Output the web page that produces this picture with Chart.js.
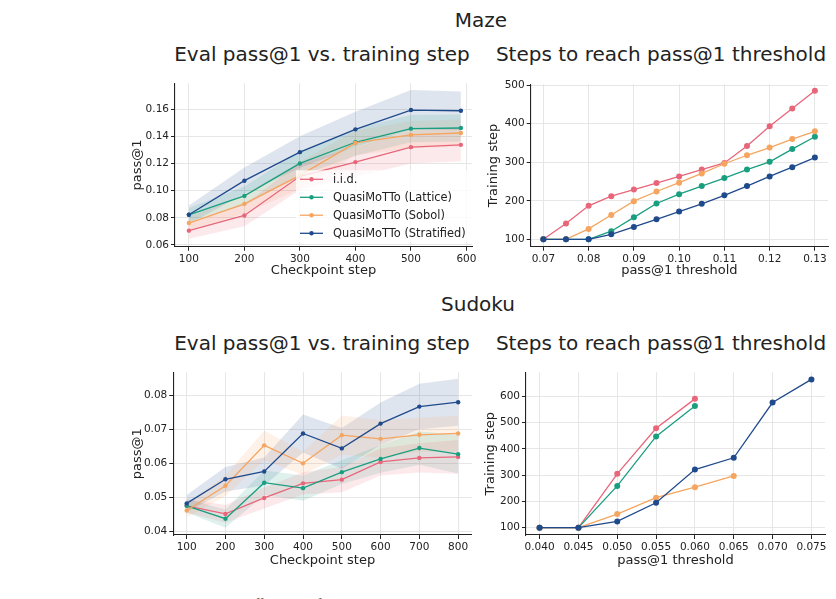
<!DOCTYPE html>
<html>
<head>
<meta charset="utf-8">
<script src="https://cdn.jsdelivr.net/npm/chart.js@4.4.1/dist/chart.umd.min.js"></script>
<style>
  html, body { margin:0; padding:0; background:#fff; }
  body { width:836px; height:599px; position:relative; overflow:hidden; font-family:"DejaVu Sans", sans-serif; color:#222; }
  .t { position:absolute; white-space:nowrap; transform:translate(-50%,-50%); }
  canvas { position:absolute; }
</style>
</head>
<body>
<div class="t" style="left:481px; top:20px; font-size:20px;">Maze</div>
<div class="t" style="left:322px; top:54px; font-size:20px;">Eval pass@1 vs. training step</div>
<div class="t" style="left:661px; top:54px; font-size:20px;">Steps to reach pass@1 threshold</div>
<div class="t" style="left:478px; top:304px; font-size:20px;">Sudoku</div>
<div class="t" style="left:322px; top:343px; font-size:20px;">Eval pass@1 vs. training step</div>
<div class="t" style="left:661px; top:343px; font-size:20px;">Steps to reach pass@1 threshold</div>
<div style="position:absolute; left:6px; top:596px; font-family:'Liberation Serif', serif; font-style:italic; font-size:15px; white-space:nowrap;">Figure 11: Learning curves and sample efficiency of QuasiMoTTo against i.i.d. sampling on Maze and Sudoku.</div>

<canvas id="c1" width="350" height="203" style="left:130px; top:75px;"></canvas>
<canvas id="c2" width="350" height="202" style="left:486px; top:76px;"></canvas>
<canvas id="c3" width="350" height="204" style="left:130px; top:364px;"></canvas>
<canvas id="c4" width="353" height="204" style="left:483px; top:364px;"></canvas>

<script>
// ---------------- DATA ----------------
const seriesNames = ["i.i.d.", "QuasiMoTTo (Lattice)", "QuasiMoTTo (Sobol)", "QuasiMoTTo (Stratified)"];

// Maze: eval pass@1 vs checkpoint step
const mazeSteps = [100, 200, 300, 400, 500, 590];
const mazeIid      = [0.0705, 0.0817, 0.1105, 0.1210, 0.1320, 0.1337];
const mazeIidLo    = [0.0645, 0.0737, 0.1005, 0.1100, 0.1200, 0.1217];
const mazeIidHi    = [0.0765, 0.0897, 0.1205, 0.1320, 0.1440, 0.1457];
const mazeLattice  = [0.0822, 0.0961, 0.1200, 0.1356, 0.1456, 0.1461];
const mazeLatticeLo= [0.0772, 0.0891, 0.1110, 0.1256, 0.1356, 0.1361];
const mazeLatticeHi= [0.0872, 0.1031, 0.1290, 0.1456, 0.1556, 0.1561];
const mazeSobol    = [0.0761, 0.0902, 0.1112, 0.1351, 0.1410, 0.1424];
const mazeSobolLo  = [0.0711, 0.0832, 0.1012, 0.1261, 0.1310, 0.1324];
const mazeSobolHi  = [0.0811, 0.0972, 0.1212, 0.1441, 0.1510, 0.1524];
const mazeStrat    = [0.0822, 0.1073, 0.1283, 0.1451, 0.1593, 0.1588];
const mazeStratLo  = [0.0754, 0.0976, 0.1166, 0.1322, 0.1446, 0.1446];
const mazeStratHi  = [0.0890, 0.1170, 0.1400, 0.1580, 0.1740, 0.1730];
const mazeEvalXTicks = [100, 200, 300, 400, 500, 600];
const mazeEvalYTicks = [0.06, 0.08, 0.10, 0.12, 0.14, 0.16];

// Maze: steps to reach threshold
const mazeThresholds = [0.07, 0.075, 0.08, 0.085, 0.09, 0.095, 0.10, 0.105, 0.11, 0.115, 0.12, 0.125, 0.13];
const mazeReachIid     = [100, 141, 187, 212, 229, 246, 263, 281, 298, 342, 393, 439, 485];
const mazeReachLattice = [100, 100, 100, 121, 157, 193, 217, 238, 259, 281, 301, 334, 366];
const mazeReachSobol   = [100, 100, 127, 163, 199, 224, 247, 271, 296, 318, 338, 360, 380];
const mazeReachStrat   = [100, 100, 100, 113, 132, 152, 172, 192, 214, 238, 263, 287, 312];
const mazeReachXTicks = [0.07, 0.08, 0.09, 0.10, 0.11, 0.12, 0.13];
const mazeReachYTicks = [100, 200, 300, 400, 500];

// Sudoku: eval pass@1 vs checkpoint step
const sudokuSteps = [100, 200, 300, 400, 500, 600, 700, 800];
const sudokuIid      = [0.0476, 0.0452, 0.0499, 0.0542, 0.0553, 0.0605, 0.0617, 0.0620];
const sudokuIidLo    = [0.0456, 0.0426, 0.0468, 0.0509, 0.0516, 0.0565, 0.0574, 0.0570];
const sudokuIidHi    = [0.0496, 0.0478, 0.0530, 0.0575, 0.0590, 0.0645, 0.0660, 0.0670];
const sudokuLattice  = [0.0476, 0.0438, 0.0544, 0.0528, 0.0575, 0.0614, 0.0646, 0.0628];
const sudokuLatticeLo= [0.0456, 0.0411, 0.0508, 0.0491, 0.0540, 0.0573, 0.0597, 0.0571];
const sudokuLatticeHi= [0.0496, 0.0465, 0.0580, 0.0565, 0.0610, 0.0655, 0.0695, 0.0685];
const sudokuSobol    = [0.0462, 0.0535, 0.0654, 0.0601, 0.0684, 0.0673, 0.0685, 0.0689];
const sudokuSobolLo  = [0.0442, 0.0505, 0.0610, 0.0567, 0.0626, 0.0618, 0.0635, 0.0636];
const sudokuSobolHi  = [0.0482, 0.0565, 0.0698, 0.0635, 0.0742, 0.0728, 0.0735, 0.0742];
const sudokuStrat    = [0.0483, 0.0554, 0.0577, 0.0689, 0.0645, 0.0718, 0.0768, 0.0781];
const sudokuStratLo  = [0.0458, 0.0518, 0.0536, 0.0633, 0.0585, 0.0656, 0.0701, 0.0712];
const sudokuStratHi  = [0.0508, 0.0590, 0.0618, 0.0745, 0.0705, 0.0780, 0.0835, 0.0850];
const sudokuEvalXTicks = [100, 200, 300, 400, 500, 600, 700, 800];
const sudokuEvalYTicks = [0.04, 0.05, 0.06, 0.07, 0.08];

// Sudoku: steps to reach threshold
const sudokuThresholds = [0.040, 0.045, 0.050, 0.055, 0.060, 0.065, 0.070, 0.075];
const sudokuReachIid     = [100, 100, 305, 478, 590];
const sudokuReachLattice = [100, 100, 259, 447, 563];
const sudokuReachSobol   = [100, 100, 152, 214, 254, 297];
const sudokuReachStrat   = [100, 100, 124, 195, 321, 366, 576, 664];
const sudokuReachXTicks = [0.040, 0.045, 0.050, 0.055, 0.060, 0.065, 0.070, 0.075];
const sudokuReachYTicks = [100, 200, 300, 400, 500, 600];

// ---------------- STYLE ----------------
const colors = ["#e8667a", "#1a9e80", "#f5a55f", "#1f4a8c"];
const bandAlpha = 0.14;
const FONT = "DejaVu Sans";
const INK = "#222";

function rgba(hex, a) {
  const n = parseInt(hex.slice(1), 16);
  return `rgba(${(n>>16)&255},${(n>>8)&255},${n&255},${a})`;
}
function pts(xs, ys) { return ys.map((y, i) => ({x: xs[i], y})); }

function lineDs(i, xs, ys, r) {
  return {
    label: seriesNames[i], data: pts(xs, ys), borderColor: colors[i], backgroundColor: colors[i],
    borderWidth: 1.3, pointRadius: r, pointBorderWidth: 0, pointBackgroundColor: colors[i],
    tension: 0, fill: false, order: 4 - i
  };
}
function bandDs(i, xs, lo, hi) {
  return [
    { label: "_hi", data: pts(xs, hi), borderWidth: 0, pointRadius: 0, fill: "+1",
      backgroundColor: rgba(colors[i], bandAlpha), borderColor: "transparent", order: 20 + i },
    { label: "_lo", data: pts(xs, lo), borderWidth: 0, pointRadius: 0, fill: false,
      borderColor: "transparent", order: 20 + i }
  ];
}

function axis(opts) {
  return {
    type: "linear", min: opts.min, max: opts.max,
    afterBuildTicks: s => { s.ticks = opts.ticks.map(v => ({value: v})); },
    afterFit: s => { if (opts.w !== undefined) s.width = opts.w; if (opts.h !== undefined) s.height = opts.h; },
    grid: { color: "#e6e6e6", lineWidth: 1, tickColor: INK, tickLength: 4, drawTicks: true },
    border: { color: INK, width: 1.1 },
    ticks: { color: INK, font: { family: FONT, size: 10.5 }, padding: 2, autoSkip: false, maxRotation: 0,
             callback: v => v.toFixed(opts.dec) },
    title: { display: true, text: opts.title, color: INK, font: { family: FONT, size: 13, lineHeight: 1.2 }, padding: 0 }
  };
}

const legendPlugin = {
  id: "insideLegend",
  afterDatasetsDraw(chart) {
    const ctx = chart.ctx;
    const items = chart.data.datasets.filter(d => !d.label.startsWith("_"));
    const x0 = 296 - 130, rows = [179.3, 197.3, 215.2, 233.3].map(y => y - 75);
    ctx.save();
    ctx.fillStyle = "rgba(255,255,255,0.8)";
    ctx.fillRect(x0, rows[0] - 9, 176, rows[3] - rows[0] + 18);
    items.forEach((d, k) => {
      const y = rows[k];
      ctx.strokeStyle = d.borderColor; ctx.lineWidth = 1.3;
      ctx.beginPath(); ctx.moveTo(x0 + 4, y); ctx.lineTo(x0 + 27, y); ctx.stroke();
      ctx.fillStyle = d.borderColor;
      ctx.beginPath(); ctx.arc(x0 + 15.5, y, 2.2, 0, Math.PI * 2); ctx.fill();
      ctx.fillStyle = INK; ctx.font = `11.4px "${FONT}"`; ctx.textBaseline = "middle";
      ctx.fillText(d.label, x0 + 37, y + 0.5);
    });
    ctx.restore();
  }
};

function make(id, datasets, xOpts, yOpts, pad, plugins) {
  new Chart(document.getElementById(id), {
    type: "line",
    data: { datasets },
    options: {
      responsive: false, animation: false, devicePixelRatio: 1,
      layout: { padding: pad },
      plugins: { legend: { display: false }, tooltip: { enabled: false } },
      scales: { x: axis(xOpts), y: axis(yOpts) }
    },
    plugins: plugins || []
  });
}

// Panel 1: Maze eval
make("c1",
  [
    lineDs(0, mazeSteps, mazeIid, 2.2), lineDs(1, mazeSteps, mazeLattice, 2.2),
    lineDs(2, mazeSteps, mazeSobol, 2.2), lineDs(3, mazeSteps, mazeStrat, 2.2),
    ...bandDs(0, mazeSteps, mazeIidLo, mazeIidHi), ...bandDs(1, mazeSteps, mazeLatticeLo, mazeLatticeHi),
    ...bandDs(2, mazeSteps, mazeSobolLo, mazeSobolHi), ...bandDs(3, mazeSteps, mazeStratLo, mazeStratHi)
  ],
  { min: 75, max: 610, ticks: mazeEvalXTicks, dec: 0, title: "Checkpoint step", h: 31.3 },
  { min: 0.0587, max: 0.179, ticks: mazeEvalYTicks, dec: 2, title: "pass@1", w: 45 },
  { top: 8, right: 8, left: 0, bottom: 0 }, [legendPlugin]);

// Panel 2: Maze steps to threshold
make("c2",
  [
    lineDs(0, mazeThresholds, mazeReachIid, 3), lineDs(1, mazeThresholds, mazeReachLattice, 3),
    lineDs(2, mazeThresholds, mazeReachSobol, 3), lineDs(3, mazeThresholds, mazeReachStrat, 3)
  ],
  { min: 0.0672, max: 0.1329, ticks: mazeReachXTicks, dec: 2, title: "pass@1 threshold", h: 31.3 },
  { min: 80.9, max: 502, ticks: mazeReachYTicks, dec: 0, title: "Training step", w: 44.7 },
  { top: 8, right: 8, left: 0, bottom: 0 });

// Panel 3: Sudoku eval
make("c3",
  [
    lineDs(0, sudokuSteps, sudokuIid, 2.2), lineDs(1, sudokuSteps, sudokuLattice, 2.2),
    lineDs(2, sudokuSteps, sudokuSobol, 2.2), lineDs(3, sudokuSteps, sudokuStrat, 2.2),
    ...bandDs(0, sudokuSteps, sudokuIidLo, sudokuIidHi), ...bandDs(1, sudokuSteps, sudokuLatticeLo, sudokuLatticeHi),
    ...bandDs(2, sudokuSteps, sudokuSobolLo, sudokuSobolHi), ...bandDs(3, sudokuSteps, sudokuStratLo, sudokuStratHi)
  ],
  { min: 65.5, max: 835, ticks: sudokuEvalXTicks, dec: 0, title: "Checkpoint step", h: 33 },
  { min: 0.039, max: 0.0869, ticks: sudokuEvalYTicks, dec: 2, title: "pass@1", w: 43.3 },
  { top: 7.7, right: 8.3, left: 0, bottom: 0 });

// Panel 4: Sudoku steps to threshold
make("c4",
  [
    lineDs(0, sudokuThresholds, sudokuReachIid, 3), lineDs(1, sudokuThresholds, sudokuReachLattice, 3),
    lineDs(2, sudokuThresholds, sudokuReachSobol, 3), lineDs(3, sudokuThresholds, sudokuReachStrat, 3)
  ],
  { min: 0.03825, max: 0.07675, ticks: sudokuReachXTicks, dec: 3, title: "pass@1 threshold", h: 33 },
  { min: 72.3, max: 691, ticks: sudokuReachYTicks, dec: 0, title: "Training step", w: 43 },
  { top: 7.7, right: 11, left: 0, bottom: 0 });
</script>
</body>
</html>
